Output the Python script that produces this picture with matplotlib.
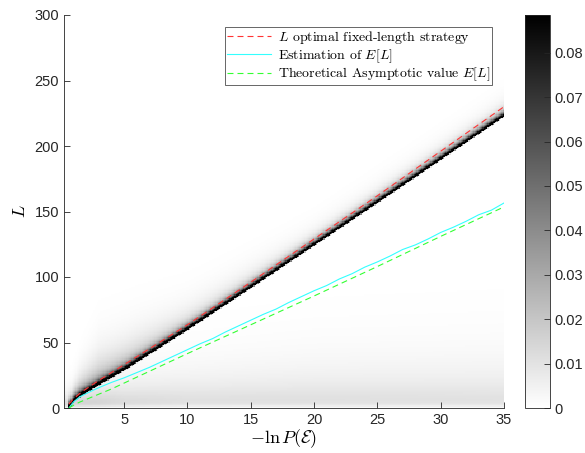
import numpy as np
import matplotlib
matplotlib.use("Agg")
import matplotlib.pyplot as plt

plt.rcParams['font.family'] = 'Liberation Sans'
plt.rcParams['mathtext.fontset'] = 'cm'
plt.rcParams['lines.scale_dashes'] = False

# Lines (x = -ln P(E), y = L)
ridge_x = [0.65, 1, 1.5, 2, 3, 4, 5, 10, 15, 20, 25, 30, 35]
ridge_L = [0, 5, 9, 12, 18, 23.5, 29, 60, 92, 124.5, 157, 190, 223]

red_x = [0.65, 1, 1.5, 2, 3, 5, 10, 15, 20, 25, 30, 35]
red_L = [3, 7, 11, 14.5, 21, 33, 63.5, 96, 129, 162, 196, 230]

green_x = [0.65, 1, 1.5, 2, 3, 4, 5, 10, 15, 20, 25, 30, 35]
green_L = [0, 2, 4.5, 6.5, 10.5, 14.5, 19, 41.5, 63.5, 85.5, 108, 131, 153.5]

cyan_x = [0.65, 1, 1.5, 2, 3, 4, 5, 6, 7, 8, 9, 10, 11, 12, 13, 14, 15, 16, 17,
          18, 19, 20, 21, 22, 23, 24, 25, 26, 27, 28, 29, 30, 31, 32, 33, 34, 35]
cyan_L = [0, 4.5, 8.5, 11, 15.5, 19.5, 23, 27, 31, 35.5, 40, 44.5, 49, 53, 58,
          62.5, 67, 71.5, 75.5, 80.5, 85, 89.5, 93.5, 98.5, 102.5, 107.5, 111.5,
          116, 121, 124.5, 129, 134, 138, 142.5, 147.5, 151, 156.5]

# heat map shape, read at a few x positions
tail_x = [0.65, 1.5, 3, 6, 10, 20, 35]
tail_amp = [0.035, 0.035, 0.032, 0.028, 0.024, 0.02, 0.02]   # haze above the ridge
tail_len = [3, 9, 14, 13, 10, 7, 7]
band_x = [0.3, 1, 3, 5, 10, 20, 35]
band_amp = [0.03, 0.03, 0.026, 0.021, 0.017, 0.016, 0.015]   # low-L band
band_len = [6, 8, 12, 14, 18, 22, 24]

x_edges = (0.26, 35)
xs = np.linspace(x_edges[0], x_edges[1], 346)
Ls = np.arange(0, 301)
X, LL = np.meshgrid(xs, Ls)
r = np.interp(X, ridge_x, ridge_L)
d = LL - r
ta = np.interp(X, tail_x, tail_amp)
tl = np.interp(X, tail_x, tail_len)
ba = np.interp(X, band_x, band_amp)
bl = np.interp(X, band_x, band_len)
dp = np.clip(d, 0, None)
above = 0.12 * np.exp(-dp / 2.2) + ta * np.exp(-dp / tl)
below = 0.12 * np.exp(-(d / 0.7) ** 2)
Z = np.where(d >= 0, above, below)
Z = Z * (X >= 0.55)
Z = Z + ba * np.exp(-LL / bl) * (1 - np.exp(-(LL + 0.5) / 3.0))

fig = plt.figure(figsize=(5.85, 4.53), dpi=100)
ax = fig.add_axes([64 / 585, 45 / 453, 440 / 585, 393 / 453])
im = ax.imshow(Z, origin='lower', aspect='auto', cmap='gray_r', vmin=0, vmax=0.0885,
               extent=[x_edges[0], x_edges[1], 0, 300], interpolation='nearest')

ax.plot(red_x, red_L, color='#ff3333', lw=0.8, dashes=(4.3, 2.9),
        label=r'$L$ optimal fixed-length strategy')
ax.plot(cyan_x, cyan_L, color='#33ffff', lw=0.8, label=r'Estimation of $E[L]$')
ax.plot(green_x, green_L, color='#33ff33', lw=0.8, dashes=(4.3, 2.9),
        label=r'Theoretical Asymptotic value $E[L]$')

ax.set_xlim(x_edges)
ax.set_ylim(0, 300)
ax.set_xticks([5, 10, 15, 20, 25, 30, 35])
ax.set_yticks([0, 50, 100, 150, 200, 250, 300])
ax.tick_params(direction='in', labelsize=10.5, colors='0.15', length=4, width=0.6)
for s in ['top', 'right']:
    ax.spines[s].set_visible(False)
for s in ['left', 'bottom']:
    ax.spines[s].set_color('0.15')
    ax.spines[s].set_linewidth(0.6)
ax.set_xlabel(r'$-\ln P(\mathcal{E})$', fontsize=13, labelpad=0)
ax.set_ylabel(r'$L$', fontsize=13)

leg = ax.legend(loc='upper right', bbox_to_anchor=(0.9727, 0.9695), borderaxespad=0,
                prop={'family': 'cmr10', 'size': 10}, fancybox=False, framealpha=1,
                edgecolor='0.3', handlelength=3.2, labelspacing=0.08,
                borderpad=0.15, handletextpad=0.45)
leg.get_frame().set_linewidth(0.6)

cax = fig.add_axes([525 / 585, 45 / 453, 25 / 585, 393 / 453])
cb = fig.colorbar(im, cax=cax, ticks=[0, 0.01, 0.02, 0.03, 0.04, 0.05, 0.06, 0.07, 0.08])
cb.ax.set_yticklabels(['0', '0.01', '0.02', '0.03', '0.04', '0.05', '0.06', '0.07', '0.08'])
cb.ax.tick_params(direction='in', labelsize=10.5, colors='0.15', length=4, width=0.6)
cb.outline.set_edgecolor('0.15')
cb.outline.set_linewidth(0.6)

fig.savefig('out.png', dpi=100)
